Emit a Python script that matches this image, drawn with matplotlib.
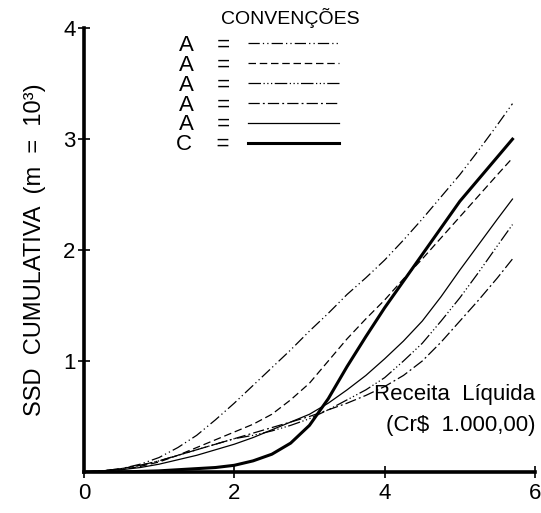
import numpy as np
import matplotlib
matplotlib.use("Agg")
from matplotlib import pyplot as plt

plt.rcParams['font.family'] = ['Liberation Sans', 'DejaVu Sans']

# =======================================================
#   Data (Receita Liquida vs SSD)
# =======================================================
x_vals = [0, 0.25, 0.5, 0.75, 1, 1.25, 1.5, 1.75, 2, 2.25, 2.5, 2.75,
          3, 3.25, 3.5, 3.75, 4, 4.25, 4.5, 4.75, 5, 5.25, 5.5, 5.7]

# upper dash-dot-dot
a1 = [0, 0.01, 0.03, 0.07, 0.13, 0.22, 0.33, 0.47, 0.62, 0.78, 0.94, 1.10,
      1.27, 1.43, 1.60, 1.75, 1.91, 2.09, 2.28, 2.48, 2.68, 2.90, 3.13, 3.32]
# dashed
a2 = [0, 0.01, 0.02, 0.05, 0.09, 0.15, 0.22, 0.29, 0.36, 0.43, 0.52, 0.65,
      0.80, 1.00, 1.20, 1.38, 1.55, 1.74, 1.92, 2.11, 2.30, 2.49, 2.68, 2.83]
# lower dash-dot-dot
a3 = [0, 0.01, 0.03, 0.06, 0.10, 0.15, 0.20, 0.25, 0.30, 0.33, 0.37, 0.42,
      0.48, 0.56, 0.65, 0.74, 0.85, 1.00, 1.16, 1.36, 1.57, 1.80, 2.04, 2.23]
# dash-dot
a4 = [0, 0.01, 0.03, 0.06, 0.10, 0.15, 0.20, 0.25, 0.30, 0.35, 0.40, 0.45,
      0.50, 0.56, 0.62, 0.69, 0.77, 0.87, 1.00, 1.17, 1.36, 1.55, 1.75, 1.92]
# thin solid
a5 = [0, 0.01, 0.02, 0.04, 0.07, 0.11, 0.15, 0.20, 0.25, 0.31, 0.38, 0.45,
      0.52, 0.62, 0.74, 0.87, 1.02, 1.18, 1.36, 1.58, 1.82, 2.05, 2.28, 2.46]
# thick solid (C)
c1 = [0, 0.0, 0.0, 0.005, 0.01, 0.02, 0.03, 0.04, 0.06, 0.10, 0.16, 0.26,
      0.42, 0.66, 0.95, 1.22, 1.48, 1.72, 1.96, 2.20, 2.44, 2.64, 2.84, 3.00]

labels = ["A    =", "A    =", "A    =", "A    =", "A    =", "C    ="]
x_ticks = [0, 2, 4, 6]
y_ticks = [1, 2, 3, 4]
# =======================================================

fig = plt.figure(figsize=(5.41, 5.13), dpi=100)
ax = fig.add_axes([0.155, 0.080, 0.834, 0.865])

styles = [
    dict(ls=(0, (9, 2.5, 1, 2.5, 1, 2.5)), lw=0.9),
    dict(ls=(0, (6, 3)), lw=0.9),
    dict(ls=(0, (10, 2, 1, 2, 1, 2, 1, 2)), lw=0.9),
    dict(ls=(0, (9, 2.5, 1.5, 2.5)), lw=0.9),
    dict(ls='-', lw=0.9),
    dict(ls='-', lw=2.2),
]
series = [a1, a2, a3, a4, a5, c1]

for ys, st, lab in zip(series, styles, labels):
    ax.plot(x_vals, ys, color='black', label=lab, **st)

ax.set_xlim(0, 6)
ax.set_ylim(0, 4)
ax.set_xticks(x_ticks)
ax.set_yticks(y_ticks)
ax.tick_params(axis='both', direction='inout', length=8, width=1.2,
               labelsize=16, pad=2)
ax.tick_params(axis='x', pad=4)
for side in ['top', 'right']:
    ax.spines[side].set_visible(False)
for side in ['left', 'bottom']:
    ax.spines[side].set_linewidth(2.6)

ax.set_ylabel("SSD  CUMULATIVA  (m  =  10³)", fontsize=17, labelpad=12)

ax.text(1.0, 0.175, "Receita  Líquida", transform=ax.transAxes,
        ha='right', va='center', fontsize=16)
ax.text(1.0, 0.105, "(Cr$  1.000,00)", transform=ax.transAxes,
        ha='right', va='center', fontsize=16)

ax.text(0.457, 1.022, "CONVENÇÕES", transform=ax.transAxes,
        ha='center', va='center', fontsize=14)
ax.legend(loc='upper left', bbox_to_anchor=(0.205, 0.985), frameon=False,
          markerfirst=False, fontsize=16, borderaxespad=0, borderpad=0,
          handlelength=4.1, labelspacing=-0.05, handletextpad=0.8)

plt.savefig("out.png", dpi=100)
plt.close(fig)
